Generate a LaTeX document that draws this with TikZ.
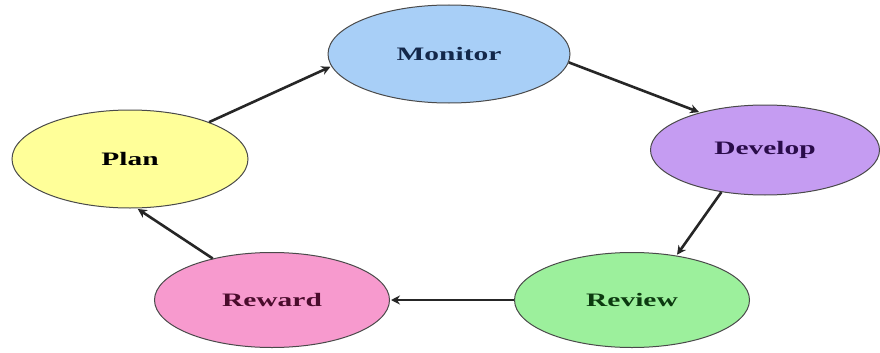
\documentclass[tikz,border=0pt]{standalone}
\usepackage{fontspec}
\usepackage{graphicx}
\setmainfont{Liberation Serif}
\usetikzlibrary{shapes.geometric,arrows.meta}
\definecolor{cMon}{HTML}{A8CFF7}
\definecolor{cPlan}{HTML}{FFFF99}
\definecolor{cDev}{HTML}{C59CF2}
\definecolor{cRev}{HTML}{9CF09C}
\definecolor{cRew}{HTML}{F79ACE}
\definecolor{tMon}{HTML}{14284A}
\definecolor{tDev}{HTML}{2A0C4A}
\definecolor{tRev}{HTML}{0C3A10}
\definecolor{tRew}{HTML}{4A0C2C}
\definecolor{edge}{HTML}{4A4A4A}
\newcommand{\lbl}[1]{\scalebox{1.55}[1]{\fontsize{19}{20}\selectfont\bfseries #1}}
\tikzset{
  stage/.style={ellipse, draw=edge, line width=1pt, inner sep=0pt},
  flow/.style={draw=black!85, line width=2.6pt, -{Stealth[length=9pt,width=9pt]}, shorten >=1pt}
}
\begin{document}
\begin{tikzpicture}[x=1pt,y=-1pt]
\useasboundingbox (0,0) rectangle (880,353);
\fill[white] (0,0) rectangle (880,353);
\node[stage, fill=cMon, minimum width=242pt, minimum height=98pt, text=tMon] (mon) at (449,54) {\lbl{Monitor}};
\node[stage, fill=cPlan, minimum width=236pt, minimum height=98pt, text=black] (plan) at (130,159) {\lbl{Plan}};
\node[stage, fill=cDev, minimum width=229pt, minimum height=90pt, text=tDev] (dev) at (765,150) {\lbl{Develop}};
\node[stage, fill=cRev, minimum width=235pt, minimum height=95pt, text=tRev] (rev) at (632,300) {\lbl{Review}};
\node[stage, fill=cRew, minimum width=235pt, minimum height=95pt, text=tRew] (rew) at (272,300) {\lbl{Reward}};
\draw[flow] (plan.25) -- (mon.186);
\draw[flow] (mon.-4) -- (dev.150);
\draw[flow] (dev.224) -- (rev.45);
\draw[flow, line width=1.8pt] (rev.west) -- (rew.east);
\draw[flow] (rew.145) -- (plan.278);
\end{tikzpicture}
\end{document}
